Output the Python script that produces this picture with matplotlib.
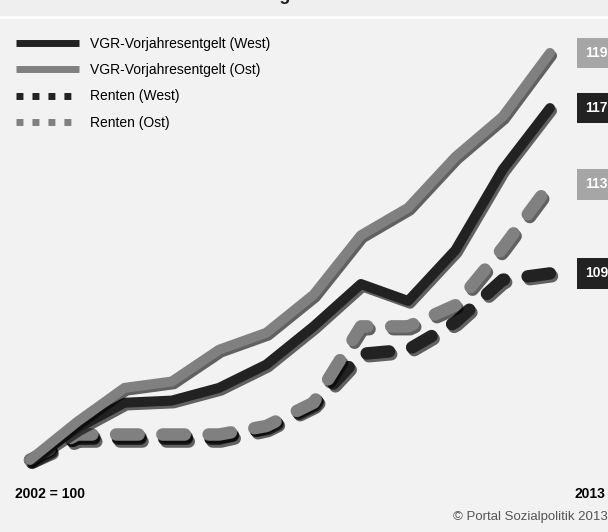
import numpy as np
import matplotlib
matplotlib.use("Agg")
from matplotlib import pyplot as plt
from matplotlib import patheffects as pe
from matplotlib.lines import Line2D
from matplotlib.patches import Rectangle
from matplotlib.transforms import blended_transform_factory

plt.rcParams['font.family'] = ['Liberation Sans', 'DejaVu Sans']

# index values, 2002 = 100
years = np.arange(2002, 2014)
vgr_west = [100, 101.5, 102.7, 102.8, 103.4, 104.5, 106.3, 108.3, 107.5, 109.9, 113.7, 116.6]
vgr_ost = [100, 101.8, 103.4, 103.7, 105.2, 106.0, 107.8, 110.6, 111.9, 114.3, 116.2, 119.2]
renten_west = [100, 101.0, 101.0, 101.0, 101.0, 101.5, 102.6, 105.0, 105.2, 106.5, 108.5, 108.8]
renten_ost = [100, 101.2, 101.2, 101.2, 101.2, 101.6, 102.7, 106.3, 106.3, 107.3, 110.0, 113.0]
end_labels = ["119", "117", "113", "109"]

dark = "#222222"
grey = "#808080"
bg = "#f2f2f2"

fig = plt.figure(figsize=(6.08, 5.32), dpi=100, facecolor=bg)
ax = fig.add_axes([0, 0, 1, 1])
ax.set_facecolor(bg)
ax.set_xlim(2001.365, 2014.228)
ax.set_ylim(96.6, 121.7)
ax.axis("off")

shadow = [pe.SimpleLineShadow(offset=(1.5, -2), shadow_color="black", alpha=0.6), pe.Normal()]

ax.plot(years, renten_west, color=dark, lw=9, dashes=(1.8, 1.9),
        dash_capstyle="round", solid_joinstyle="round", path_effects=shadow, zorder=2)
ax.plot(years, renten_ost, color=grey, lw=9, dashes=(1.8, 1.9),
        dash_capstyle="round", solid_joinstyle="round", path_effects=shadow, zorder=3)
ax.plot(years, vgr_west, color=dark, lw=7.2, solid_capstyle="round",
        solid_joinstyle="round", path_effects=shadow, zorder=4)
ax.plot(years, vgr_ost, color=grey, lw=7.2, solid_capstyle="round",
        solid_joinstyle="round", path_effects=shadow, zorder=5)

# end value boxes on the right
trans = blended_transform_factory(fig.transFigure, ax.transData)
ends = [vgr_ost[-1], vgr_west[-1], renten_ost[-1], renten_west[-1]]
box_cols = ["#a6a6a6", dark, "#a6a6a6", dark]
for lab, yv, c in zip(end_labels, ends, box_cols):
    ax.text(585 / 608, yv, lab, transform=trans, ha="left", va="center",
            color="white", fontsize=10, fontweight="bold", clip_on=False,
            bbox=dict(boxstyle="square,pad=0.6", fc=c, ec="none"))

# legend
handles = [
    Line2D([], [], color=dark, lw=5, solid_capstyle="butt"),
    Line2D([], [], color=grey, lw=5, solid_capstyle="butt"),
    Line2D([], [], color=dark, lw=5, dashes=(1, 1.3), dash_capstyle="butt"),
    Line2D([], [], color=grey, lw=5, dashes=(1, 1.3), dash_capstyle="butt"),
]
labels = ["VGR-Vorjahresentgelt (West)", "VGR-Vorjahresentgelt (Ost)",
          "Renten (West)", "Renten (Ost)"]
fig.legend(handles, labels, loc="upper left", bbox_to_anchor=(16 / 608, 1 - 37 / 532),
           frameon=False, fontsize=10, handlelength=4.5, handletextpad=0.85,
           labelspacing=0.88, borderpad=0, borderaxespad=0)

# top strip with the title, cut off at the upper edge as in the source
fig.add_artist(Rectangle((0, 1 - 17 / 532), 1, 17 / 532, transform=fig.transFigure,
                         fc="#efefef", ec="none", zorder=0))
fig.add_artist(Line2D([0, 1], [1 - 17 / 532, 1 - 17 / 532], transform=fig.transFigure,
                      color="white", lw=2))
fig.text(15 / 608, 1 - 0.5 / 532, "Renten und Löhne: Entwicklung in West und Ost 2002 - 2013",
         ha="left", va="baseline", fontsize=13, fontweight="bold", color="#222222")

fig.text(15 / 608, 1 - 494 / 532, "2002 = 100", ha="left", va="center",
         fontsize=10, fontweight="bold", color="black")
fig.text(605 / 608, 1 - 494 / 532, "2013", ha="right", va="center",
         fontsize=10, fontweight="bold", color="black")
fig.text(608 / 608, 1 - 517 / 532, "© Portal Sozialpolitik 2013", ha="right", va="center",
         fontsize=9.5, color="#555555")

fig.savefig("out.png", dpi=100, facecolor=bg)
